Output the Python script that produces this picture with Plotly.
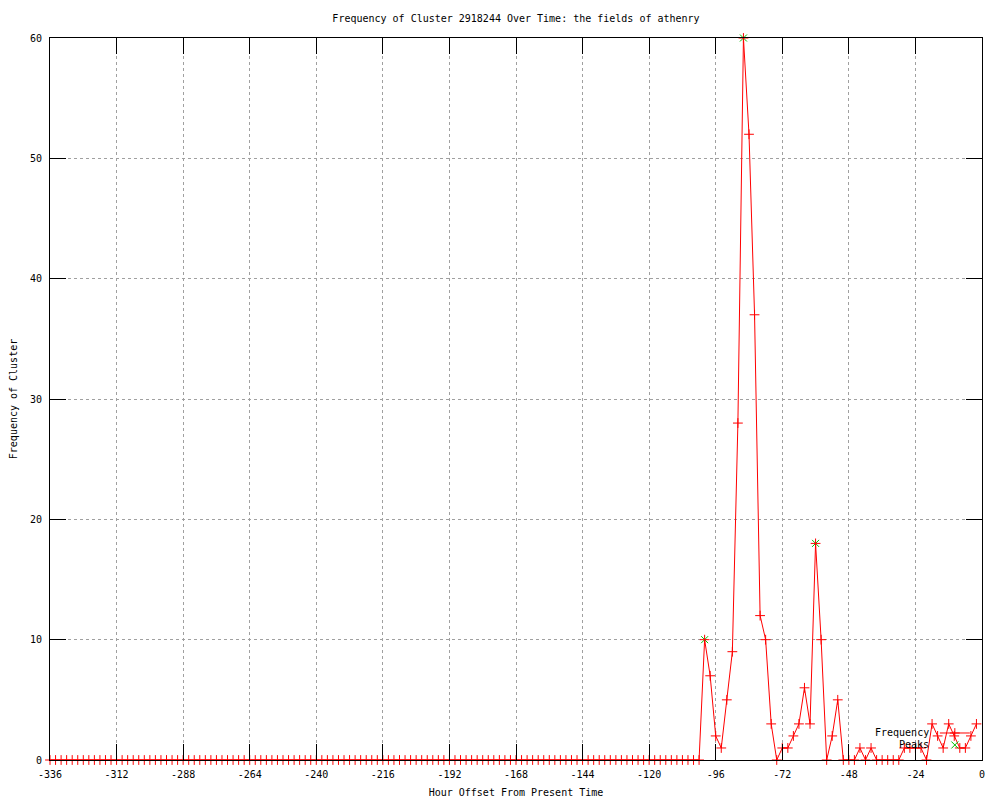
import plotly.graph_objects as go

# ---- data ----
hours = list(range(-336, 0, 2))  # sampling every 2 hours, -336 ... -2

frequency = [
    # -336 .. -102 (118 points)
    0, 0, 0, 0, 0, 0, 0, 0, 0, 0, 0, 0, 0, 0, 0, 0, 0, 0, 0, 0,
    0, 0, 0, 0, 0, 0, 0, 0, 0, 0, 0, 0, 0, 0, 0, 0, 0, 0, 0, 0,
    0, 0, 0, 0, 0, 0, 0, 0, 0, 0, 0, 0, 0, 0, 0, 0, 0, 0, 0, 0,
    0, 0, 0, 0, 0, 0, 0, 0, 0, 0, 0, 0, 0, 0, 0, 0, 0, 0, 0, 0,
    0, 0, 0, 0, 0, 0, 0, 0, 0, 0, 0, 0, 0, 0, 0, 0, 0, 0, 0, 0,
    0, 0, 0, 0, 0, 0, 0, 0, 0, 0, 0, 0, 0, 0, 0, 0, 0, 0,
    # -100 .. -2 (50 points)
    10, 7, 2, 1, 5, 9, 28, 60, 52, 37,
    12, 10, 3, 0, 1, 1, 2, 3, 6, 3,
    18, 10, 0, 2, 5, 0, 0, 0, 1, 0,
    1, 0, 0, 0, 0, 0, 1, 1, 1, 1,
    0, 3, 2, 1, 3, 2, 1, 1, 2, 3,
]

peak_hours = [-100, -86, -60]
peak_values = [10, 60, 18]

x_tickvals = [-336, -312, -288, -264, -240, -216, -192, -168, -144, -120, -96, -72, -48, -24, 0]
x_ticktext = ["-336", "-312", "-288", "-264", "-240", "-216", "-192", "-168",
              "-144", "-120", "-96", "-72", "-48", "-24", "0"]
y_tickvals = [0, 10, 20, 30, 40, 50, 60]
y_ticktext = ["0", "10", "20", "30", "40", "50", "60"]

series_names = ["Frequency", "Peaks"]
title_text = "Frequency of Cluster 2918244 Over Time: the fields of athenry"
x_title = "Hour Offset From Present Time"
y_title = "Frequency of Cluster"

FONT = "DejaVu Sans Mono"

fig = go.Figure()

fig.add_trace(go.Scatter(
    x=peak_hours, y=peak_values, mode="markers", name=" ",
    marker=dict(symbol="x-thin-open", size=7, color="#00c000",
                line=dict(color="#00c000", width=1)),
    legend="legend2", cliponaxis=False,
))

fig.add_trace(go.Scatter(
    x=hours, y=frequency, mode="lines+markers", name=" ",
    line=dict(color="#ff0000", width=1),
    marker=dict(symbol="cross-thin-open", size=7, color="#ff0000",
                line=dict(color="#ff0000", width=1)),
    legend="legend", cliponaxis=False,
))

axis_common = dict(
    showline=True, linecolor="black", linewidth=1, mirror="ticks",
    ticks="inside", ticklen=16, tickwidth=1, tickcolor="black",
    showgrid=True, gridcolor="#a0a0a0", griddash="dot", gridwidth=1,
    zeroline=False,
    tickfont=dict(family=FONT, size=10, color="black"),
)

fig.update_xaxes(
    range=[-336, 0], tickmode="array", tickvals=x_tickvals, ticktext=x_ticktext,
    title=dict(text=x_title, font=dict(family=FONT, size=10, color="black"), standoff=9),
    ticklabelstandoff=5,
    **axis_common,
)
fig.update_yaxes(
    range=[0, 60], tickmode="array", tickvals=y_tickvals, ticktext=y_ticktext,
    title=dict(text=y_title, font=dict(family=FONT, size=10, color="black"), standoff=12),
    ticklabelstandoff=5,
    **axis_common,
)

legend_common = dict(
    xanchor="left", yanchor="middle", bgcolor="rgba(0,0,0,0)", borderwidth=0,
    font=dict(family=FONT, size=10, color="black"), itemwidth=30,
)

fig.update_layout(
    width=1000, height=800,
    margin=dict(l=42, r=26, t=30, b=48, autoexpand=False),
    paper_bgcolor="white", plot_bgcolor="white",
    title=dict(text=title_text, x=0.5, xref="paper", xanchor="center",
               y=1 - 10 / 800, yref="container", yanchor="middle",
               font=dict(family=FONT, size=10, color="black")),
    font=dict(family=FONT, size=10, color="black"),
    showlegend=True,
    legend=dict(x=0.9494, y=0.0374, **legend_common),
    legend2=dict(x=0.9494, y=0.0208, **legend_common),
    annotations=[
        dict(text=series_names[0], xref="paper", yref="paper", x=0.9453, y=0.0374,
             xanchor="right", yanchor="middle", showarrow=False,
             font=dict(family=FONT, size=10, color="black")),
        dict(text=series_names[1], xref="paper", yref="paper", x=0.9453, y=0.0208,
             xanchor="right", yanchor="middle", showarrow=False,
             font=dict(family=FONT, size=10, color="black")),
    ],
)

fig.write_html("out.html")
